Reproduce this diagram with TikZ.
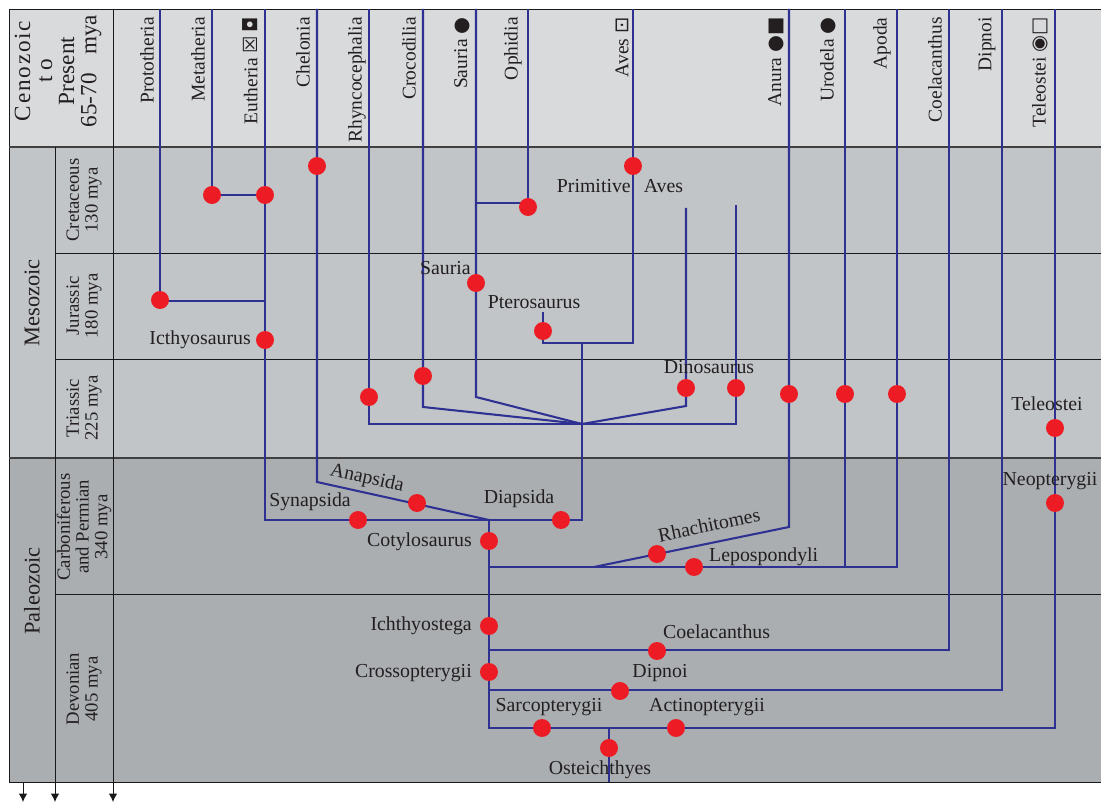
\documentclass[tikz,border=0pt]{standalone}
\usepackage{fontspec}
\setmainfont{Liberation Serif}
\newfontfamily\symfont{DejaVu Sans}
\usetikzlibrary{positioning,arrows.meta}
\definecolor{hdrgray}{HTML}{D9DADC}
\definecolor{mesogray}{HTML}{C2C5C8}
\definecolor{paleogray}{HTML}{AAAEB1}
\definecolor{treeblue}{HTML}{2E3192}
\definecolor{dotred}{HTML}{ED1C24}
\definecolor{txtgray}{HTML}{231F20}
\newcommand{\sy}[1]{{\symfont #1}}

\begin{document}
\begin{tikzpicture}[
    x=0.0188cm,y=-0.0188cm,
    tree/.style={treeblue,line width=1.1pt},
    dot/.style={circle,fill=dotred,inner sep=0pt,minimum size=9.6pt},
    grid/.style={black!90,line width=0.5pt},
    era/.style={black!75,line width=1.3pt},
    lab/.style={text=txtgray,font=\fontsize{10.6}{10.6}\selectfont,inner sep=1pt},
    clade/.style={lab,rotate=90,anchor=east,inner sep=0pt,font=\fontsize{10.4}{10.4}\selectfont},
    period/.style={lab,rotate=90,align=center,font=\fontsize{10}{10}\selectfont},
    ]
    \useasboundingbox (0,0) rectangle (1101,803);
    % time table
    \fill[hdrgray] (9,9) rectangle (1101,147);
    \fill[mesogray] (9,147) rectangle (1101,458);
    \fill[paleogray] (9,458) rectangle (1101,782);
    \draw[grid] (1101,9) -- (9,9) -- (9,782) -- (1101,782);
    \draw[era] (9,147) -- (1101,147);
    \draw[era] (9,458) -- (1101,458);
    \draw[grid] (55,253) -- (1101,253);
    \draw[grid] (55,359) -- (1101,359);
    \draw[grid] (55,594) -- (1101,594);
    \draw[grid,-{Latex[length=4.5pt,width=4.5pt]}] (23,782) -- (23,802);
    \draw[grid,-{Latex[length=4.5pt,width=4.5pt]}] (55,147) -- (55,802);
    \draw[grid,-{Latex[length=4.5pt,width=4.5pt]}] (113,9) -- (113,802);

    \node[lab,rotate=90,align=center,font=\fontsize{12.4}{11.8}\selectfont] (ceno) at (58,71)
      {{\addfontfeature{LetterSpace=8}Cenozoic}\\t o\\Present\\65-70\hspace{0.8em}mya};
    \node[lab,rotate=90,font=\fontsize{12}{12}\selectfont] (meso) at (32,303) {Mesozoic};
    \node[lab,rotate=90,font=\fontsize{12}{12}\selectfont] (paleo) at (32,591) {Paleozoic};
    \node[period] (cret) at (84,200) {Cretaceous\\130 mya};
    \node[period] (jura) at (84,306) {Jurassic\\180 mya};
    \node[period] (tria) at (84,408) {Triassic\\225 mya};
    \node[period] (carb) at (84,527) {Carboniferous\\and Permian\\340 mya};
    \node[period] (devo) at (84,689) {Devonian\\405 mya};

    % column heads
    \node[clade] (protoHd) at (147,17) {Prototheria};
    \node[clade] (metaHd) at (198,17) {Metatheria};
    \node[clade] (euHd) at (250,17) {Eutheria \sy{☒}\,\sy{◘}};
    \node[clade] (chelHd) at (303,17) {Chelonia};
    \node[clade] (rhynHd) at (357,17) {Rhyncocephalia};
    \node[clade] (crocHd) at (409,17) {Crocodilia};
    \node[clade] (saurHd) at (462,17) {Sauria \sy{●}};
    \node[clade] (ophHd) at (513,17) {Ophidia};
    \node[clade] (avesHd) at (622,17) {Aves \sy{⊡}};
    \node[clade] (anurHd) at (776,17) {Anura \sy{●}\sy{■}};
    \node[clade] (uroHd) at (828,17) {Urodela \sy{●}};
    \node[clade] (apoHd) at (882,17) {Apoda};
    \node[clade] (coelHd) at (935,17) {Coelacanthus};
    \node[clade] (dipHd) at (987,17) {Dipnoi};
    \node[clade] (teleHd) at (1040,17) {Teleostei \sy{◉}\sy{□}};

    % branch points
    \coordinate (protoTop) at (160,9);
    \coordinate (metaTop) at (212,9);
    \coordinate (euTop) at (265,9);
    \coordinate (chelTop) at (317,9);
    \coordinate (rhynTop) at (369,9);
    \coordinate (crocTop) at (423,9);
    \coordinate (saurTop) at (476,9);
    \coordinate (ophTop) at (528,9);
    \coordinate (avesTop) at (633,9);
    \coordinate (anurTop) at (789,9);
    \coordinate (uroTop) at (845,9);
    \coordinate (apoTop) at (897,9);
    \coordinate (coelTop) at (949,9);
    \coordinate (dipTop) at (1002,9);
    \coordinate (teleTop) at (1055,9);
    \coordinate (dinoTopA) at (686,208);
    \coordinate (dinoTopB) at (736,205);
    \coordinate (pteroTop) at (543,312);
    \coordinate (protoJ) at (160,301);
    \coordinate (protoE) at (265,301);
    \coordinate (metaJ) at (212,195);
    \coordinate (euJ) at (265,195);
    \coordinate (synL) at (265,520);
    \coordinate (diaR) at (582,520);
    \coordinate (cotyJ) at (489,520);
    \coordinate (chelJ) at (317,482);
    \coordinate (fanJ) at (582,424);
    \coordinate (rhynJ) at (369,424);
    \coordinate (dinoJB) at (736,424);
    \coordinate (crocJ) at (423,407);
    \coordinate (saurJ) at (476,397);
    \coordinate (dinoJA) at (686,406);
    \coordinate (ophJ) at (528,203);
    \coordinate (saurOph) at (476,203);
    \coordinate (avesJ) at (633,343);
    \coordinate (pteroJ) at (543,343);
    \coordinate (archJ) at (582,343);
    \coordinate (amphL) at (489,567);
    \coordinate (apoJ) at (897,567);
    \coordinate (uroJ) at (845,567);
    \coordinate (rhachL) at (594,567);
    \coordinate (anurJ) at (789,527);
    \coordinate (coelJ) at (949,650);
    \coordinate (coelL) at (489,650);
    \coordinate (dipJ) at (1002,690);
    \coordinate (dipL) at (489,690);
    \coordinate (sarcL) at (489,728);
    \coordinate (teleJ) at (1055,728);
    \coordinate (osteJ) at (609,728);
    \coordinate (osteB) at (609,782);

    % tree
    \draw[tree] (protoTop) -- (protoJ) -- (protoE);
    \draw[tree] (metaTop) -- (metaJ) -- (euJ);
    \draw[tree] (euTop) -- (synL) -- (diaR) -- (archJ);
    \draw[tree] (chelTop) -- (chelJ) -- (cotyJ);
    \draw[tree] (rhynTop) -- (rhynJ) -- (dinoJB) -- (dinoTopB);
    \draw[tree] (crocTop) -- (crocJ) -- (fanJ);
    \draw[tree] (saurTop) -- (saurJ) -- (fanJ);
    \draw[tree] (ophTop) -- (ophJ) -- (saurOph);
    \draw[tree] (dinoTopA) -- (dinoJA) -- (fanJ);
    \draw[tree] (avesTop) -- (avesJ) -- (pteroJ) -- (pteroTop);
    \draw[tree] (cotyJ) -- (sarcL) -- (teleJ) -- (teleTop);
    \draw[tree] (amphL) -- (apoJ) -- (apoTop);
    \draw[tree] (uroTop) -- (uroJ);
    \draw[tree] (anurTop) -- (anurJ) -- (rhachL);
    \draw[tree] (coelTop) -- (coelJ) -- (coelL);
    \draw[tree] (dipTop) -- (dipJ) -- (dipL);
    \draw[tree] (osteJ) -- (osteB);

    % dots
    \node[dot] (protoDot) at (160,300) {};
    \node[dot] (metaDot) at (metaJ) {};
    \node[dot] (euDot) at (euJ) {};
    \node[dot] (icthDot) at (265,340) {};
    \node[dot] (chelDot) at (317,166) {};
    \node[dot] (rhynDot) at (369,397) {};
    \node[dot] (crocDot) at (423,376) {};
    \node[dot] (saurDot) at (476,283) {};
    \node[dot] (ophDot) at (528,207) {};
    \node[dot] (pteroDot) at (543,331) {};
    \node[dot] (avesDot) at (633,166) {};
    \node[dot] (dinoDotA) at (686,388) {};
    \node[dot] (dinoDotB) at (736,388) {};
    \node[dot] (anurDot) at (789,394) {};
    \node[dot] (uroDot) at (845,394) {};
    \node[dot] (apoDot) at (897,394) {};
    \node[dot] (teleDot) at (1055,428) {};
    \node[dot] (neopDot) at (1055,503) {};
    \node[dot] (anapDot) at (417,503) {};
    \node[dot] (synDot) at (358,520) {};
    \node[dot] (diaDot) at (561,520) {};
    \node[dot] (cotyDot) at (489,541) {};
    \node[dot] (rhachDot) at (657,554) {};
    \node[dot] (lepoDot) at (694,567) {};
    \node[dot] (ichDot) at (489,626) {};
    \node[dot] (coelDot) at (657,651) {};
    \node[dot] (crossDot) at (489,672) {};
    \node[dot] (dipDot) at (620,691) {};
    \node[dot] (sarcDot) at (542,728) {};
    \node[dot] (actDot) at (676,728) {};
    \node[dot] (osteDot) at (609,748) {};

    % labels
    \node[lab,anchor=east] (icthLab) at (253,340) {Icthyosaurus};
    \node[lab,anchor=east] (saurLab) at (473,268) {Sauria};
    \node[lab] (pteroLab) at (534,302) {Pterosaurus};
    \node[lab] (primLab) at (620,186) {Primitive\hspace{7pt}Aves};
    \node[lab] (dinoLab) at (709,367) {Dinosaurus};
    \node[lab,rotate=-12.5] (anapLab) at (367,479) {Anapsida};
    \node[lab] (synLab) at (310,502) {Synapsida};
    \node[lab] (diaLab) at (519,499) {Diapsida};
    \node[lab,anchor=east] (cotyLab) at (474,542) {Cotylosaurus};
    \node[lab,rotate=11.6] (rhachLab) at (709,525) {Rhachitomes};
    \node[lab,anchor=west] (lepoLab) at (707,557) {Lepospondyli};
    \node[lab,anchor=east] (ichLab) at (474,626) {Ichthyostega};
    \node[lab,anchor=west] (coelLab) at (661,632) {Coelacanthus};
    \node[lab,anchor=east] (crossLab) at (474,673) {Crossopterygii};
    \node[lab] (dipLab) at (660,673) {Dipnoi};
    \node[lab] (sarcLab) at (549,707) {Sarcopterygii};
    \node[lab] (actLab) at (707,707) {Actinopterygii};
    \node[lab] (osteLab) at (600,770) {Osteichthyes};
    \node[lab] (teleLab) at (1047,404) {Teleostei};
    \node[lab] (neopLab) at (1050,481) {Neopterygii};
  \end{tikzpicture}
\end{document}
